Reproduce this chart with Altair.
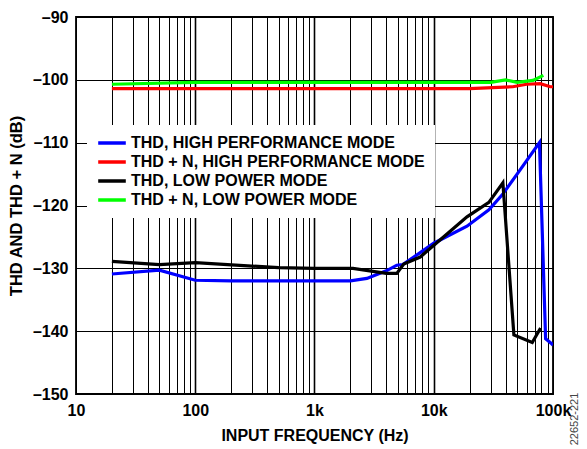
import altair as alt
import pandas as pd

# ---------------- data ----------------
series_names = [
    "THD, HIGH PERFORMANCE MODE",
    "THD + N, HIGH PERFORMANCE MODE",
    "THD, LOW POWER MODE",
    "THD + N, LOW POWER MODE",
]
series_colors = ["#0000FF", "#FF0000", "#000000", "#00FF00"]

thd_hp_freq = [20, 50, 100, 200, 500, 1000, 2000, 2750, 4000, 4900, 5500, 7700,
               10000, 19000, 29000, 37500, 50000, 77000, 86700, 97500, 100000]
thd_hp_db = [-130.9, -130.3, -131.9, -132.0, -132.0, -132.0, -132.0, -131.6, -130.4,
             -129.5, -129.4, -127.5, -126.0, -123.3, -120.7, -118.3, -115.0, -110.0,
             -141.2, -142.0, -142.2]

thdn_hp_freq = [20, 100, 1000, 10000, 20000, 46000, 60000, 78000, 95000, 100000]
thdn_hp_db = [-101.4, -101.4, -101.4, -101.4, -101.4, -101.1, -100.7, -100.6, -101.1, -101.1]

thd_lp_freq = [20, 50, 100, 500, 1000, 2100, 4000, 4900, 5600, 7700, 19000, 29000,
               38000, 47000, 67000, 78700]
thd_lp_db = [-128.9, -129.4, -129.1, -129.9, -130.0, -130.0, -130.8, -130.8, -129.3,
             -128.2, -121.8, -119.5, -116.4, -140.6, -141.8, -139.5]

thdn_lp_freq = [20, 100, 1000, 10000, 30000, 40000, 50000, 68000, 83000]
thdn_lp_db = [-100.7, -100.4, -100.4, -100.4, -100.4, -100.0, -100.4, -100.1, -99.3]

x_grid_values = [10, 20, 30, 40, 50, 60, 70, 80, 90,
                 100, 200, 300, 400, 500, 600, 700, 800, 900,
                 1000, 2000, 3000, 4000, 5000, 6000, 7000, 8000, 9000,
                 10000, 20000, 30000, 40000, 50000, 60000, 70000, 80000, 90000,
                 100000]
decade_values = [10, 100, 1000, 10000, 100000]
decade_labels = ["10", "100", "1k", "10k", "100k"]
y_values = [-150, -140, -130, -120, -110, -100, -90]
figure_id = "22652-221"

# ---------------- build table ----------------
rows = []
for name, fs, ds in zip(series_names,
                        [thd_hp_freq, thdn_hp_freq, thd_lp_freq, thdn_lp_freq],
                        [thd_hp_db, thdn_hp_db, thd_lp_db, thdn_lp_db]):
    for i, (f, d) in enumerate(zip(fs, ds)):
        rows.append({"series": name, "freq": f, "db": d, "order": i})
df = pd.DataFrame(rows)

FONT = "Liberation Sans"

x_label_expr = " : ".join(
    f"datum.value == {v} ? '{l}'" for v, l in zip(decade_values, decade_labels)
) + " : ''"
major_test = " || ".join(f"datum.value == {v}" for v in decade_values[1:-1])

lines = alt.Chart(df).mark_line(strokeWidth=3.2, clip=True).encode(
    x=alt.X(
        "freq:Q",
        title="INPUT FREQUENCY (Hz)",
        scale=alt.Scale(type="log", domain=[10, 100000], nice=False),
        axis=alt.Axis(
            values=x_grid_values,
            labelExpr=x_label_expr,
            grid=True,
            gridColor="black",
            gridOpacity=1,
            gridWidth={"condition": {"test": major_test, "value": 1.6}, "value": 1},
            ticks=False,
            domain=False,
            labelFont=FONT,
            labelFontSize=16,
            labelFontWeight="bold",
            labelColor="black",
            labelPadding=8,
            labelFlush=False,
            labelOverlap=False,
            titleFont=FONT,
            titleFontSize=16,
            titleFontWeight="bold",
            titleColor="black",
            titlePadding=9,
        ),
    ),
    y=alt.Y(
        "db:Q",
        title="THD AND THD + N (dB)",
        scale=alt.Scale(domain=[-150, -90], nice=False, zero=False),
        axis=alt.Axis(
            values=y_values,
            labelExpr="'\u2013' + abs(datum.value)",
            grid=True,
            gridColor="black",
            gridOpacity=1,
            gridWidth=1.1,
            ticks=False,
            domain=False,
            labelFont=FONT,
            labelFontSize=16,
            labelFontWeight="bold",
            labelColor="black",
            labelPadding=8,
            labelFlush=False,
            labelOverlap=False,
            titleFont=FONT,
            titleFontSize=16.5,
            titleFontWeight="bold",
            titleColor="black",
            titlePadding=8,
        ),
    ),
    color=alt.Color(
        "series:N",
        scale=alt.Scale(domain=series_names, range=series_colors),
        sort=series_names,
        legend=alt.Legend(
            title=None,
            orient="none",
            legendX=11,
            legendY=108,
            fillColor="white",
            padding=10,
            symbolType="M-2.76,0L2.76,0",
            symbolSize=100,
            symbolStrokeWidth=3.5,
            symbolOffset=7,
            labelOffset=11,
            labelFont=FONT,
            labelFontSize=16,
            labelFontWeight="bold",
            labelColor="black",
            labelLimit=400,
            rowPadding=3,
        ),
    ),
    order="order:Q",
)

id_text = alt.Chart(pd.DataFrame({"t": [figure_id]})).mark_text(
    angle=270, font=FONT, fontSize=11, color="#444444", align="center", baseline="middle"
).encode(text="t:N", x=alt.value(499), y=alt.value(402))

chart = alt.layer(lines, id_text).properties(
    width=477,
    height=377,
    autosize=alt.AutoSizeParams(type="none"),
    padding={"left": 68, "top": 9, "right": 26, "bottom": 55},
).configure_view(stroke="black", strokeWidth=1.8)

chart.save("out.html", embed_options={"renderer": "svg", "actions": False})
